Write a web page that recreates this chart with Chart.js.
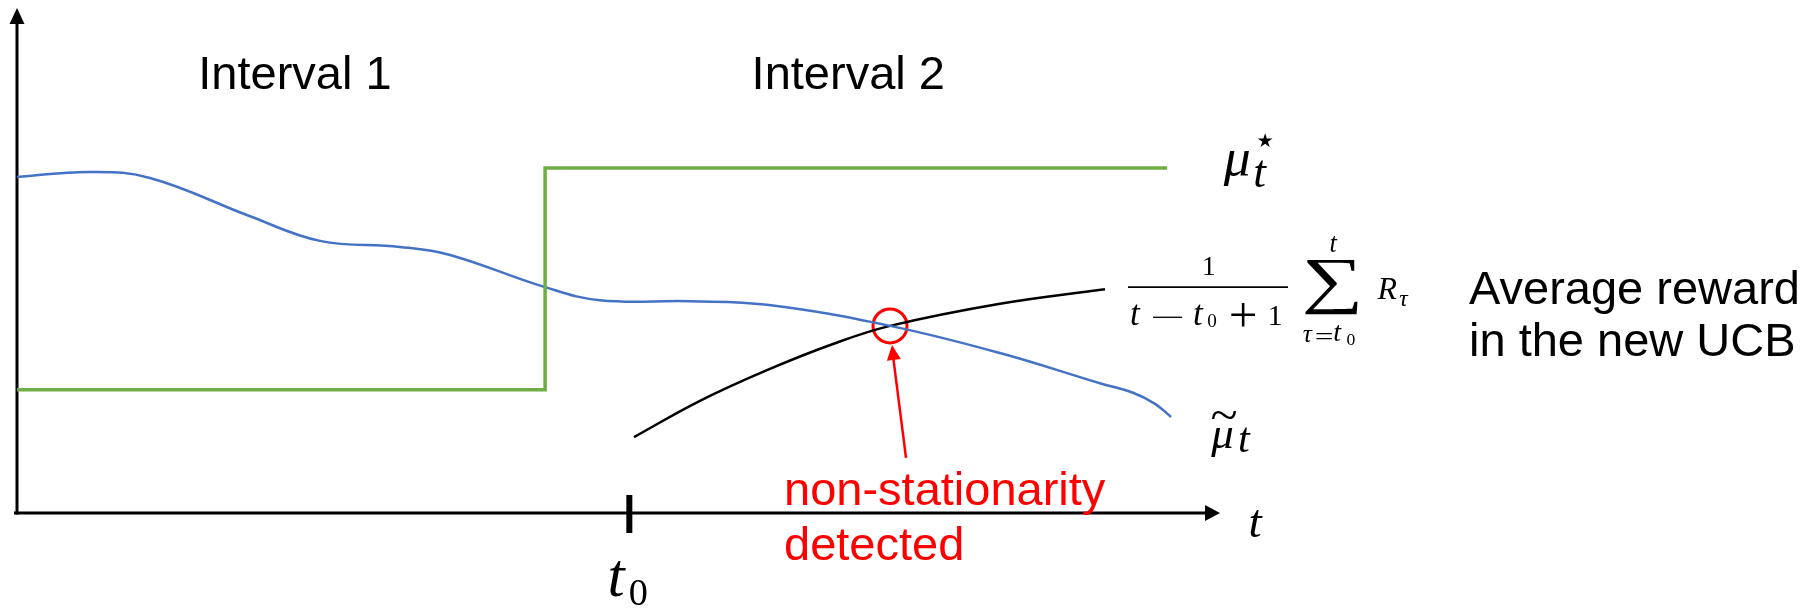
<!DOCTYPE html>
<html>
<head>
<meta charset="utf-8">
<script src="https://cdn.jsdelivr.net/npm/chart.js@4"></script>
<style>
  html, body { margin: 0; padding: 0; background: #fff; }
  #wrap { width: 1811px; height: 608px; position: relative; }
</style>
</head>
<body>
<div id="wrap"><canvas id="chart"></canvas></div>
<script>
// time runs 0..100 on x, value 0..100 on y
const blueX = [0, 6.07, 11.06, 19.37, 25.19, 31.84, 35.99, 43.89, 48.46, 55.94, 62.34, 72.57, 81.71, 90.02, 92.77, 94.6, 95.93];
const blueY = [66.8, 67.8, 66.6, 59.0, 54.1, 52.9, 51.3, 44.9, 42.3, 42.1, 41.4, 37.2, 31.8, 25.8, 23.9, 21.7, 19.1];
const greenX = [0, 43.9, 43.9, 95.6];
const greenY = [24.5, 24.5, 68.6, 68.6];
const avgX = [51.29, 56.77, 62.34, 67.83, 72.57, 81.71, 90.44];
const avgY = [15.1, 22.3, 28.4, 33.6, 37.2, 41.6, 44.5];
const detectX = [72.57];
const detectY = [37.2];
const changePoint = 50.9; // t0
const intervalLabels = ['Interval 1', 'Interval 2'];
const intervalX = [23.1, 69.1];

function pts(xs, ys) {
  return xs.map((x, i) => ({ x: x, y: ys[i] }));
}

const SANS = '"Liberation Sans", Arial, sans-serif';
const SERIF = '"Liberation Serif", "Times New Roman", serif';
const ITAL = 'italic 100px ' + SERIF;
const UPR = '100px ' + SERIF;

function put(ctx, str, px, py, font, align, color) {
  ctx.font = font;
  ctx.textAlign = align || 'left';
  ctx.textBaseline = 'alphabetic';
  ctx.fillStyle = color || '#000';
  ctx.fillText(str, px, py);
}

// draw a glyph so its ink is centred on (cx, cy) with height h;
// give w to stretch it to a width as well (rules, tilde, big sum)
function glyph(ctx, str, font, cx, cy, h, w) {
  ctx.save();
  ctx.font = font;
  ctx.textAlign = 'left';
  ctx.textBaseline = 'alphabetic';
  const m = ctx.measureText(str);
  const gw = m.actualBoundingBoxLeft + m.actualBoundingBoxRight;
  const gh = m.actualBoundingBoxAscent + m.actualBoundingBoxDescent;
  const sy = h / gh;
  const sx = w ? w / gw : sy;
  ctx.translate(cx, cy);
  ctx.scale(sx, sy);
  ctx.fillStyle = '#000';
  ctx.fillText(str, -gw / 2 + m.actualBoundingBoxLeft, gh / 2 - m.actualBoundingBoxDescent);
  ctx.restore();
}

function arrowHead(ctx, tx, ty, fx, fy, len, half) {
  const ang = Math.atan2(ty - fy, tx - fx);
  ctx.beginPath();
  ctx.moveTo(tx, ty);
  ctx.lineTo(tx - len * Math.cos(ang) + half * Math.sin(ang), ty - len * Math.sin(ang) - half * Math.cos(ang));
  ctx.lineTo(tx - len * Math.cos(ang) - half * Math.sin(ang), ty - len * Math.sin(ang) + half * Math.cos(ang));
  ctx.closePath();
  ctx.fill();
}

const sketchPlugin = {
  id: 'sketch',
  beforeDatasetsDraw(chart) {
    const { ctx, scales: { x, y } } = chart;
    const x0 = x.getPixelForValue(0), y0 = y.getPixelForValue(0);
    const xEnd = x.getPixelForValue(100), yTop = y.getPixelForValue(100);
    ctx.save();
    ctx.strokeStyle = '#000';
    ctx.fillStyle = '#000';
    ctx.lineWidth = 3;
    // vertical axis
    ctx.beginPath();
    ctx.moveTo(x0, y0 + 1.5);
    ctx.lineTo(x0, yTop + 12);
    ctx.stroke();
    arrowHead(ctx, x0, yTop - 2, x0, y0, 16, 7.5);
    // time axis
    ctx.beginPath();
    ctx.moveTo(x0 - 3, y0);
    ctx.lineTo(xEnd - 12, y0);
    ctx.stroke();
    arrowHead(ctx, xEnd, y0, x0, y0, 15, 8);
    // t0 tick
    const tx = x.getPixelForValue(changePoint);
    ctx.lineWidth = 6;
    ctx.beginPath();
    ctx.moveTo(tx, y0 - 18);
    ctx.lineTo(tx, y0 + 20);
    ctx.stroke();
    ctx.restore();
  },
  afterDraw(chart) {
    const { ctx, scales: { x, y } } = chart;
    const X = v => x.getPixelForValue(v);
    const Y = v => y.getPixelForValue(v);
    ctx.save();

    // interval titles
    intervalLabels.forEach((s, i) => put(ctx, s, X(intervalX[i]), Y(84.3), '47px ' + SANS, 'center'));

    // mu star, at the end of the green line
    const gx = X(greenX[greenX.length - 1]), gy = Y(greenY[greenY.length - 1]);
    glyph(ctx, 'μ', ITAL, gx + 69, gy, 36);
    glyph(ctx, 't', ITAL, gx + 94, gy + 7, 26);
    glyph(ctx, '★', '100px "DejaVu Sans"', gx + 98, gy - 28, 14, 15);

    // mu tilde, at the end of the blue line
    const bx = X(blueX[blueX.length - 1]), by = Y(blueY[blueY.length - 1]);
    glyph(ctx, 'μ', ITAL, bx + 50.5, by + 25.5, 30);
    glyph(ctx, '~', UPR, bx + 53, by - 2, 8, 25);
    glyph(ctx, 't', ITAL, bx + 74, by + 23, 24);

    // running mean formula, at the end of the black line
    const ax = X(avgX[avgX.length - 1]), ay = Y(avgY[avgY.length - 1]);
    ctx.strokeStyle = '#000';
    ctx.lineWidth = 1.6;
    ctx.beginPath();
    ctx.moveTo(ax + 23, ay - 2);
    ctx.lineTo(ax + 183, ay - 2);
    ctx.stroke();
    glyph(ctx, '1', UPR, ax + 104, ay - 23, 18);
    glyph(ctx, 't', ITAL, ax + 31, ay + 26, 20);
    glyph(ctx, '−', UPR, ax + 62, ay + 28, 1.6, 30);
    glyph(ctx, 't', ITAL, ax + 94, ay + 26, 20);
    glyph(ctx, '0', UPR, ax + 107, ay + 31.5, 13);
    glyph(ctx, '+', UPR, ax + 138, ay + 26, 24);
    glyph(ctx, '1', UPR, ax + 170.5, ay + 26, 20);
    glyph(ctx, '∑', UPR, ax + 226.5, ay - 1.5, 55, 53);
    glyph(ctx, 't', ITAL, ax + 229, ay - 44.5, 15);
    glyph(ctx, 'τ', ITAL, ax + 203, ay + 47, 12);
    glyph(ctx, '=', UPR, ax + 219, ay + 46.5, 6, 16);
    glyph(ctx, 't', ITAL, ax + 233, ay + 44, 16);
    glyph(ctx, '0', UPR, ax + 246, ay + 50, 12);
    glyph(ctx, 'R', ITAL, ax + 282, ay, 21);
    glyph(ctx, 'τ', ITAL, ax + 299, ay + 12, 11);

    put(ctx, 'Average reward', ax + 364, ay + 15, '47px ' + SANS);
    put(ctx, 'in the new UCB', ax + 364, ay + 67, '47px ' + SANS);

    // axis names
    glyph(ctx, 't', ITAL, X(100) + 36.5, Y(0) + 10.5, 27);
    glyph(ctx, 't', ITAL, X(changePoint) - 11.5, Y(0) + 66.5, 35);
    glyph(ctx, '0', UPR, X(changePoint) + 9, Y(0) + 80, 26);

    // detection note with arrow
    const dx = X(detectX[0]), dy = Y(detectY[0]);
    ctx.strokeStyle = '#f00';
    ctx.fillStyle = '#f00';
    ctx.lineWidth = 2.5;
    ctx.beginPath();
    ctx.moveTo(dx + 16, dy + 132);
    ctx.lineTo(dx + 3, dy + 30);
    ctx.stroke();
    arrowHead(ctx, dx + 2, dy + 19, dx + 16, dy + 132, 15, 7);
    put(ctx, 'non-stationarity', dx - 106, dy + 179, '47px ' + SANS, 'left', '#f00');
    put(ctx, 'detected', dx - 106, dy + 234, '47px ' + SANS, 'left', '#f00');

    ctx.restore();
  }
};

new Chart(document.getElementById('chart'), {
  type: 'line',
  data: {
    datasets: [
      {
        label: 'mu star',
        data: pts(greenX, greenY),
        borderColor: '#70AD47',
        borderWidth: 3.5,
        pointRadius: 0,
        tension: 0
      },
      {
        label: 'mu tilde',
        data: pts(blueX, blueY),
        borderColor: '#4472C4',
        borderWidth: 2.5,
        pointRadius: 0,
        tension: 0.4
      },
      {
        label: 'average reward',
        data: pts(avgX, avgY),
        borderColor: '#000',
        borderWidth: 2.5,
        pointRadius: 0,
        tension: 0.4
      },
      {
        label: 'detected',
        data: pts(detectX, detectY),
        showLine: false,
        pointRadius: 17,
        pointBorderColor: '#f00',
        pointBackgroundColor: 'rgba(0,0,0,0)',
        pointBorderWidth: 3
      }
    ]
  },
  options: {
    responsive: true,
    maintainAspectRatio: false,
    animation: false,
    events: [],
    layout: { autoPadding: false, padding: { left: 17, right: 591, top: 10, bottom: 95 } },
    scales: {
      x: { type: 'linear', min: 0, max: 100, display: false },
      y: { min: 0, max: 100, display: false }
    },
    plugins: {
      legend: { display: false },
      tooltip: { enabled: false }
    }
  },
  plugins: [sketchPlugin]
});
</script>
</body>
</html>
